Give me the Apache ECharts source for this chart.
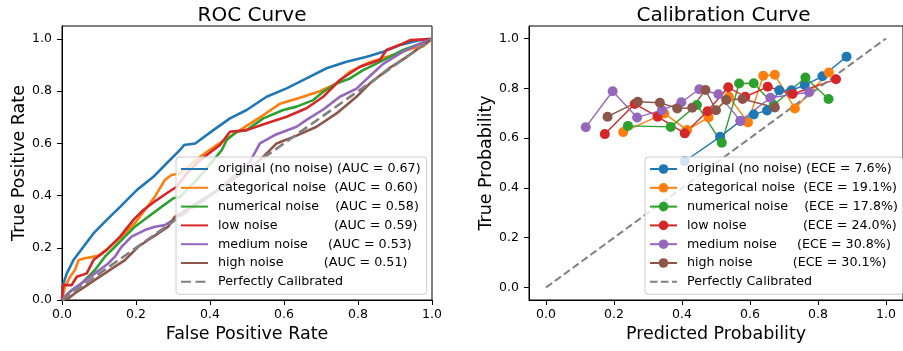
<!DOCTYPE html>
<html><head><meta charset="utf-8">
<script src="https://cdn.jsdelivr.net/npm/echarts@6/dist/echarts.min.js"></script>
<style>html,body{margin:0;padding:0;background:#fff}#c{width:903px;height:351px}</style>
</head><body><div id="c"></div>
<script>
// ---- data ----
const tickValues = [0, 0.2, 0.4, 0.6, 0.8, 1.0];
const seriesNames = ['original (no noise)', 'categorical noise', 'numerical noise', 'low noise', 'medium noise', 'high noise'];
const aucValues = [0.67, 0.60, 0.58, 0.59, 0.53, 0.51];
const eceValues = [7.6, 19.1, 17.8, 24.0, 30.8, 30.1];
const labelSpaces = [1, 2, 4, 14, 5, 10];
const refName = 'Perfectly Calibrated';
const diagonal = [[0, 0], [1, 1]];

const rocOriginal = [[0,0],[0.003,0.06],[0.013,0.102],[0.031,0.153],[0.058,0.204],[0.085,0.255],[0.121,0.307],[0.157,0.357],[0.202,0.421],[0.247,0.472],[0.283,0.524],[0.319,0.575],[0.33,0.594],[0.36,0.60],[0.409,0.651],[0.454,0.696],[0.499,0.728],[0.553,0.779],[0.607,0.811],[0.661,0.849],[0.715,0.888],[0.769,0.913],[0.824,0.932],[0.868,0.951],[0.914,0.977],[0.968,0.996],[0.986,1.0],[1,1]];
const rocCategorical = [[0,0],[0.008,0.051],[0.022,0.089],[0.035,0.115],[0.045,0.153],[0.062,0.16],[0.098,0.169],[0.125,0.198],[0.161,0.243],[0.197,0.294],[0.224,0.345],[0.251,0.396],[0.278,0.46],[0.296,0.479],[0.319,0.485],[0.373,0.549],[0.418,0.594],[0.481,0.651],[0.535,0.70],[0.589,0.752],[0.643,0.775],[0.697,0.80],[0.74,0.828],[0.778,0.875],[0.83,0.91],[0.886,0.935],[0.941,0.962],[0.976,0.972],[1,1]];
const rocNumerical = [[0,0],[0.017,0.026],[0.053,0.064],[0.089,0.115],[0.116,0.166],[0.143,0.204],[0.17,0.243],[0.197,0.281],[0.233,0.319],[0.269,0.357],[0.301,0.39],[0.319,0.395],[0.364,0.46],[0.40,0.52],[0.432,0.575],[0.445,0.613],[0.472,0.645],[0.499,0.651],[0.544,0.696],[0.598,0.728],[0.634,0.741],[0.679,0.766],[0.706,0.798],[0.742,0.83],[0.778,0.849],[0.814,0.881],[0.851,0.907],[0.886,0.932],[0.922,0.958],[0.959,0.977],[0.995,0.996],[1,1]];
const rocLow = [[0,0],[0.003,0.057],[0.026,0.057],[0.031,0.064],[0.04,0.089],[0.067,0.102],[0.085,0.153],[0.121,0.192],[0.157,0.243],[0.193,0.307],[0.22,0.345],[0.256,0.383],[0.283,0.409],[0.31,0.434],[0.34,0.49],[0.373,0.536],[0.427,0.594],[0.454,0.645],[0.499,0.651],[0.553,0.677],[0.607,0.702],[0.661,0.735],[0.706,0.779],[0.751,0.843],[0.805,0.894],[0.859,0.92],[0.877,0.958],[0.922,0.983],[0.941,0.996],[1,1]];
const rocMedium = [[0,0],[0.008,0.013],[0.026,0.038],[0.053,0.064],[0.089,0.102],[0.125,0.14],[0.143,0.166],[0.161,0.204],[0.188,0.243],[0.224,0.268],[0.251,0.281],[0.278,0.287],[0.301,0.307],[0.35,0.36],[0.42,0.42],[0.472,0.485],[0.508,0.53],[0.535,0.60],[0.575,0.632],[0.634,0.664],[0.661,0.69],[0.706,0.73],[0.751,0.779],[0.796,0.81],[0.841,0.87],[0.868,0.905],[0.922,0.952],[0.959,0.977],[1,1]];
const rocHigh = [[0,0],[0.017,0.006],[0.035,0.026],[0.062,0.051],[0.089,0.077],[0.116,0.102],[0.143,0.128],[0.17,0.153],[0.206,0.204],[0.233,0.23],[0.26,0.255],[0.287,0.281],[0.305,0.319],[0.38,0.38],[0.46,0.46],[0.535,0.536],[0.58,0.60],[0.634,0.63],[0.688,0.664],[0.742,0.715],[0.796,0.779],[0.832,0.83],[0.886,0.89],[0.932,0.932],[0.977,0.977],[1,1]];

const calOriginal = [[0.408,0.507],[0.512,0.605],[0.572,0.669],[0.611,0.695],[0.650,0.711],[0.686,0.792],[0.722,0.792],[0.761,0.813],[0.813,0.848],[0.884,0.927]];
const calCategorical = [[0.227,0.624],[0.348,0.699],[0.415,0.632],[0.478,0.683],[0.538,0.766],[0.594,0.663],[0.639,0.850],[0.673,0.854],[0.732,0.719],[0.832,0.863]];
const calNumerical = [[0.241,0.649],[0.367,0.645],[0.444,0.733],[0.517,0.581],[0.568,0.819],[0.611,0.820],[0.670,0.733],[0.763,0.843],[0.831,0.757]];
const calLow = [[0.173,0.616],[0.261,0.737],[0.328,0.686],[0.408,0.619],[0.475,0.708],[0.536,0.804],[0.586,0.766],[0.652,0.806],[0.725,0.777],[0.853,0.836]];
const calMedium = [[0.117,0.644],[0.196,0.788],[0.268,0.683],[0.341,0.712],[0.398,0.744],[0.451,0.796],[0.507,0.776],[0.572,0.669],[0.660,0.762],[0.774,0.784]];
const calHigh = [[0.181,0.686],[0.270,0.746],[0.335,0.742],[0.386,0.719],[0.430,0.722],[0.469,0.793],[0.500,0.712],[0.530,0.753],[0.578,0.757],[0.673,0.723]];

const rocData = [rocOriginal, rocCategorical, rocNumerical, rocLow, rocMedium, rocHigh];
const calData = [calOriginal, calCategorical, calNumerical, calLow, calMedium, calHigh];
const colors = ['#1f77b4', '#ff7f0e', '#2ca02c', '#d62728', '#9467bd', '#8c564b'];

// ---- build ----
const FONT = 'DejaVu Sans';
const labels = {};
const rocLegend = [], calLegend = [];
const series = [];
const hideSymbol = {opacity: 0};
seriesNames.forEach((n, i) => {
  const rk = 'roc_' + i, ck = 'cal_' + i;
  labels[rk] = n + ' '.repeat(labelSpaces[i]) + '(AUC = ' + aucValues[i].toFixed(2) + ')';
  labels[ck] = n + ' '.repeat(labelSpaces[i]) + '(ECE = ' + eceValues[i].toFixed(1) + '%)';
  rocLegend.push({name: rk, itemStyle: hideSymbol});
  calLegend.push({name: ck});
  series.push({name: rk, type: 'line', xAxisIndex: 0, yAxisIndex: 0, data: rocData[i],
    symbol: 'none', silent: true, animation: false, color: colors[i],
    lineStyle: {width: 2.6, color: colors[i]}});
});
labels['roc_ref'] = refName; labels['cal_ref'] = refName;
rocLegend.push({name: 'roc_ref', itemStyle: hideSymbol});
calLegend.push({name: 'cal_ref', itemStyle: hideSymbol});
series.push({name: 'roc_ref', type: 'line', xAxisIndex: 0, yAxisIndex: 0, data: diagonal,
  symbol: 'none', animation: false, color: '#808080',
  lineStyle: {width: 2.6, color: '#808080', type: [10, 4.5]}});
seriesNames.forEach((n, i) => {
  series.push({name: 'cal_' + i, type: 'line', xAxisIndex: 1, yAxisIndex: 1, data: calData[i],
    symbol: 'circle', symbolSize: 10, showSymbol: true, animation: false, color: colors[i],
    itemStyle: {color: colors[i]}, lineStyle: {width: 1.4, color: colors[i]}});
});
series.push({name: 'cal_ref', type: 'line', xAxisIndex: 1, yAxisIndex: 1, data: diagonal,
  symbol: 'none', animation: false, color: '#808080',
  lineStyle: {width: 2, color: '#808080', type: [7.5, 3.5]}});

function axisCommon(extra, margin) {
  return Object.assign({
    type: 'value',
    axisLine: {show: true, onZero: false, lineStyle: {color: '#000', width: 1}},
    axisTick: {show: true, inside: false, length: 5, lineStyle: {color: '#000', width: 1}, customValues: tickValues},
    axisLabel: {color: '#000', fontSize: 12.5, fontFamily: FONT, customValues: tickValues, margin: margin,
      formatter: v => v.toFixed(1)},
    splitLine: {show: false},
    nameLocation: 'middle',
    nameTextStyle: {color: '#000', fontSize: 17.5, fontFamily: FONT}
  }, extra);
}

const legendCommon = {
  orient: 'vertical', itemWidth: 27, itemHeight: 12, itemGap: 5.8,
  backgroundColor: 'rgba(255,255,255,0.8)', borderColor: '#cccccc', borderWidth: 1, borderRadius: 3,
  selectedMode: false, formatter: name => labels[name],
  textStyle: {fontSize: 12.7, fontFamily: FONT, color: '#000', lineHeight: 12, padding: [0, 0, 0, 5]}
};

const option = {
  backgroundColor: '#fff',
  animation: false,
  title: [
    {text: 'ROC Curve', left: 247, top: 1, textAlign: 'center', textStyle: {fontSize: 20, fontWeight: 'normal', fontFamily: FONT, color: '#000'}},
    {text: 'Calibration Curve', left: 718.5, top: 1, textAlign: 'center', textStyle: {fontSize: 20, fontWeight: 'normal', fontFamily: FONT, color: '#000'}}
  ],
  grid: [
    {left: 62, top: 26, width: 370, height: 274, show: true, borderColor: '#000', borderWidth: 1, containLabel: false},
    {left: 529, top: 26, width: 379, height: 274, show: true, borderColor: '#000', borderWidth: 1, containLabel: false}
  ],
  xAxis: [
    axisCommon({gridIndex: 0, min: 0, max: 1, name: 'False Positive Rate', nameGap: 25}, 8),
    axisCommon({gridIndex: 1, min: -0.05, max: 1.05, name: 'Predicted Probability', nameGap: 25}, 8)
  ],
  yAxis: [
    axisCommon({gridIndex: 0, min: 0, max: 1.05, name: 'True Positive Rate', nameGap: 33}, 10),
    axisCommon({gridIndex: 1, min: -0.05, max: 1.05, name: 'True Probability', nameGap: 33}, 10)
  ],
  legend: [
    Object.assign({}, legendCommon, {data: rocLegend, left: 176, top: 157, padding: [5.5, 6, 6, 4]}),
    Object.assign({}, legendCommon, {data: calLegend, left: 645, top: 157, padding: [5.5, 5, 6, 4]})
  ],
  series: series
};
const chart = echarts.init(document.getElementById('c'), null, {renderer: 'canvas'});
chart.setOption(option);
</script></body></html>
